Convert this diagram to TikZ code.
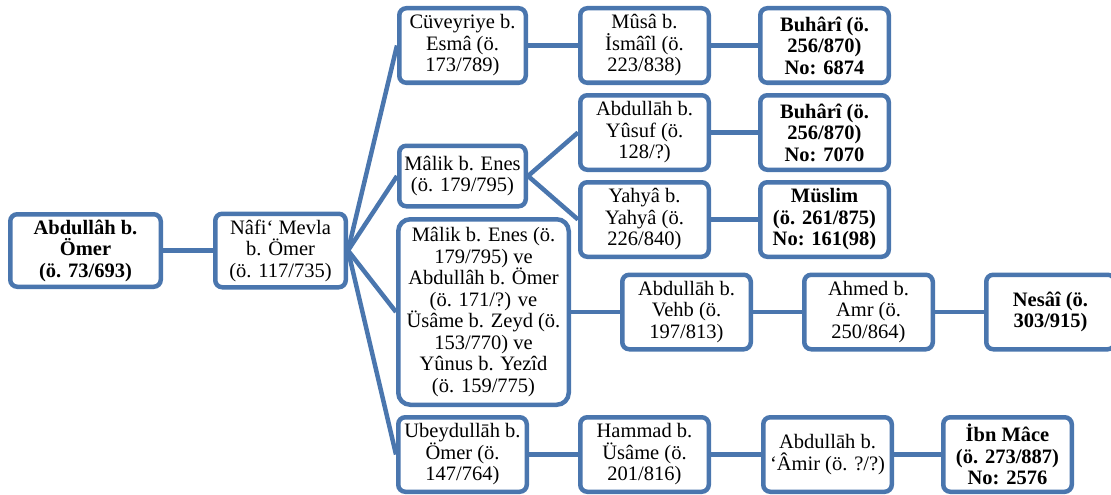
\documentclass[tikz,border=0pt]{standalone}
\usepackage{fontspec}
\setmainfont{Liberation Serif}
\usepackage{xcolor}
\usepackage{tikz}
\usetikzlibrary{positioning,calc}
\definecolor{isnadblue}{HTML}{4A76AE}
\tikzset{
  box/.style={
    rounded corners=7pt,draw=isnadblue,fill=white,
    line width=4.5pt,minimum width=128.5pt,minimum height=74.5pt,
    inner sep=2pt,align=center,
    font=\fontsize{20.5}{21.5}\selectfont
  },
  sourcebox/.style={
    box,font=\fontsize{20.5}{21.5}\selectfont\bfseries
  },
  link/.style={draw=isnadblue,line width=4.5pt}
}
\begin{document}
\begin{tikzpicture}[x=1pt,y=-1pt,node distance=8pt and 50pt]
\useasboundingbox (0,0) rectangle (1111,495);

\node[sourcebox,minimum width=150.5pt,minimum height=72.5pt] (abdullah) at (85.5,250.5)
{Abdullâh b.\\Ömer\\(ö. 73/693)};

\node[box,minimum width=130.5pt,minimum height=73.5pt,right=50pt of abdullah] (nafi)
{Nâfi‘ Mevla\\b. Ömer\\(ö. 117/735)};

\node[box,minimum width=126.5pt] (cuveyriye) at (462.5,45.5)
{Cüveyriye b.\\Esmâ (ö.\\173/789)};

\node[box,right=50pt of cuveyriye] (musa)
{Mûsâ b.\\İsmâîl (ö.\\223/838)};

\node[sourcebox,right=47pt of musa] (buhari1)
{Buhârî (ö.\\256/870)\\No: 6874};

\node[box,below=8pt of musa] (yusuf)
{Abdullāh b.\\Yûsuf (ö.\\128/?)};

\node[sourcebox,right=47pt of yusuf] (buhari2)
{Buhârî (ö.\\256/870)\\No: 7070};

\node[box,below=8pt of yusuf] (yahya)
{Yahyâ b.\\Yahyâ (ö.\\226/840)};

\node[sourcebox,right=47pt of yahya] (muslim)
{Müslim\\(ö. 261/875)\\No: 161(98)};

\node[box,minimum width=126.5pt,minimum height=60.5pt,
  left=50pt of $(yusuf.west)!0.5!(yahya.west)$] (malik)
{Mâlik b. Enes\\(ö. 179/795)};

\node[box,minimum width=170.5pt,minimum height=185.5pt,rounded corners=12pt] (group) at (483.5,312)
{Mâlik b. Enes (ö.\\179/795) ve\\Abdullâh b. Ömer\\(ö. 171/?) ve\\Üsâme b. Zeyd (ö.\\153/770) ve\\Yûnus b. Yezîd\\(ö. 159/775)};

\node[box,right=49pt of group] (vehb)
{Abdullāh b.\\Vehb (ö.\\197/813)};

\node[box,right=49pt of vehb] (ahmed)
{Ahmed b.\\Amr (ö.\\250/864)};

\node[sourcebox,right=49pt of ahmed] (nesai)
{Nesâî (ö.\\303/915)};

\node[box,below=8pt of group.south west,anchor=north west] (ubeydullah)
{Ubeydullāh b.\\Ömer (ö.\\147/764)};

\node[box,right=49pt of ubeydullah] (hammad)
{Hammad b.\\Üsâme (ö.\\201/816)};

\node[box,right=50pt of hammad] (amir)
{Abdullāh b.\\‘Âmir (ö. ?/?)};

\node[sourcebox,right=47pt of amir] (ibnmace)
{İbn Mâce\\(ö. 273/887)\\No: 2576};

\draw[link] (abdullah)--(nafi);
\draw[link] (nafi.east)--(cuveyriye.west);
\draw[link] (nafi.east)--(malik.west);
\draw[link] (nafi.east)--(group.west);
\draw[link] (nafi.east)--(ubeydullah.west);
\draw[link] (cuveyriye)--(musa);
\draw[link] (musa)--(buhari1);
\draw[link] (malik.east)--(yusuf.west);
\draw[link] (malik.east)--(yahya.west);
\draw[link] (yusuf)--(buhari2);
\draw[link] (yahya)--(muslim);
\draw[link] (group)--(vehb);
\draw[link] (vehb)--(ahmed);
\draw[link] (ahmed)--(nesai);
\draw[link] (ubeydullah)--(hammad);
\draw[link] (hammad)--(amir);
\draw[link] (amir)--(ibnmace);
\end{tikzpicture}
\end{document}
